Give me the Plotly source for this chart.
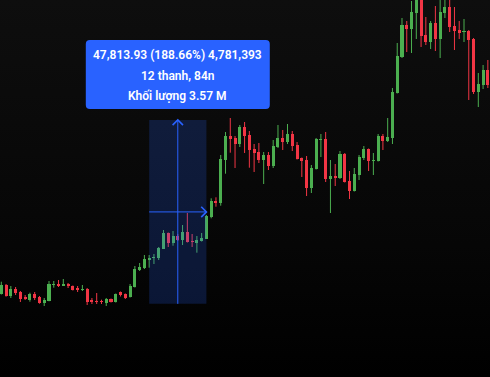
import base64
import plotly.graph_objects as go

# ---------------- data ----------------
bar_index = list(range(103))
open_ = [27910, 30250, 27470, 29210, 28430, 27130, 26350, 27910, 27130, 25570,
         26090, 30250, 30510, 30070, 30430, 29990, 29290, 28950, 29210, 26350,
         26090, 26090, 25570, 26610, 25830, 28430, 27910, 27130, 29730, 34150,
         34670, 36930, 37270, 37270, 39690, 43770, 41250, 42990, 41950, 44030,
         41690, 41170, 41690, 42290, 47850, 52170, 51650, 62750, 68990, 68470,
         66910, 71330, 69250, 65610, 64830, 62750, 64050, 61190, 66130, 68470,
         67430, 69510, 66650, 63270, 62750, 55470, 60410, 67950, 68210, 57810,
         58590, 58070, 64310, 57290, 54690, 58850, 63270, 65610, 62490, 62490,
         68990, 67690, 68470, 80170, 89530, 97850, 96810, 100970, 105130, 95250,
         93430, 98370, 94210, 100970, 102530, 97590, 96550, 96030, 96290, 94210,
         80430, 82250, 86150]
high = [31110, 30510, 29990, 29730, 28690, 27650, 28250, 28430, 27390, 26870,
        31290, 31290, 31550, 31810, 30770, 30120, 29990, 30250, 29470, 26870,
        28170, 26430, 26870, 26740, 28040, 28560, 28040, 30510, 35190, 35970,
        38050, 38050, 38310, 40130, 44550, 43900, 44290, 43510, 45850, 48970,
        43510, 42990, 43770, 48450, 52790, 53050, 64050, 70030, 73670, 68990,
        71850, 72630, 70290, 66910, 67170, 64830, 64830, 67950, 71850, 70550,
        72110, 70290, 67430, 63400, 63790, 61450, 68470, 69510, 70030, 62750,
        61710, 65090, 64570, 59890, 60670, 64050, 66390, 65740, 64570, 69510,
        69510, 73670, 81470, 93170, 99670, 98890, 104090, 106950, 106950, 99930,
        98890, 102790, 105650, 105650, 105650, 102530, 98890, 99410, 96550, 94470,
        85370, 87450, 88750]
low = [27780, 27210, 26870, 27650, 25830, 26350, 25910, 26350, 25390, 24790,
       26010, 29550, 29730, 29990, 29470, 28820, 28430, 28690, 25050, 25310,
       25310, 25310, 24790, 25700, 25700, 27260, 26610, 27000, 29600, 33890,
       34410, 34750, 35710, 36750, 39610, 40130, 40470, 41690, 40650, 41300,
       40130, 38650, 41560, 42210, 47590, 50610, 50870, 59190, 64650, 60670,
       66130, 64570, 60750, 59630, 61970, 56510, 60150, 60670, 65870, 65350,
       66910, 65090, 62880, 58330, 53390, 54170, 60280, 63530, 57030, 48970,
       55990, 57810, 56900, 52610, 54560, 57550, 62750, 59890, 58850, 62360,
       65350, 67430, 66910, 80040, 89270, 90830, 90570, 94210, 92130, 92650,
       91610, 91090, 89270, 99670, 96030, 91350, 94210, 93430, 78350, 79910,
       76530, 81210, 81470]
close = [30250, 27390, 29210, 28090, 26610, 26610, 27910, 26870, 25570, 26430,
         30510, 30510, 29990, 30250, 30070, 28950, 29130, 29210, 25910, 26010,
         25830, 25830, 26610, 25830, 27910, 27650, 26870, 29990, 34410, 34930,
         37010, 37350, 37530, 39870, 43770, 41250, 42990, 42030, 44030, 41430,
         41430, 41950, 42550, 48190, 52090, 51650, 63010, 68990, 68210, 66910,
         71330, 68990, 65350, 64570, 62750, 64050, 61190, 66390, 68470, 67430,
         69510, 66390, 63010, 62490, 55470, 60670, 68210, 68210, 57810, 58590,
         58070, 64310, 57030, 54690, 59110, 63530, 65610, 62490, 62750, 68990,
         67690, 68730, 80430, 89790, 97850, 96810, 101230, 105130, 94990, 93430,
         98370, 94210, 101230, 102530, 97330, 96290, 95770, 96290, 93950, 80430,
         82510, 86150, 82250]

# measurement tool (price & date range)
range_start_bar = 31
range_end_bar = 43
range_start_price = 25343.5
range_end_price = 73157.4
tooltip_lines = ["47,813.93 (188.66%) 4,781,393",
                 "12 thanh, 84n",
                 "Khối lượng 3.57 M"]

# ---------------- style ----------------
W, H = 490, 377
X_RANGE = [-0.2725, 102.45]
Y_RANGE = [6330, 104350]
UP = "#4CAF50"
DOWN = "#F23645"
BLUE = "#2962FF"

ux = (X_RANGE[1] - X_RANGE[0]) / W   # data units per pixel (x)
uy = (Y_RANGE[1] - Y_RANGE[0]) / H   # data units per pixel (y)


def px_x(v):
    return (v - X_RANGE[0]) / ux


def px_y(v):
    return (Y_RANGE[1] - v) / uy


fig = go.Figure()

up = [c >= o for o, c in zip(open_, close)]

# bodies
min_body = 1.0 * uy
base = [min(o, c) for o, c in zip(open_, close)]
height = [max(abs(c - o), min_body) for o, c in zip(open_, close)]
fig.add_trace(go.Bar(
    x=bar_index, y=height, base=base, width=0.64,
    marker=dict(color=[UP if u else DOWN for u in up], line=dict(width=0)),
    hoverinfo="skip", showlegend=False,
))

# wicks
for is_up, col in ((True, UP), (False, DOWN)):
    xs, ys = [], []
    for i, o, h, l, c, u in zip(bar_index, open_, high, low, close, up):
        if u == is_up:
            xs += [i, i, None]
            ys += [l, h, None]
    fig.add_trace(go.Scatter(x=xs, y=ys, mode="lines", line=dict(color=col, width=1),
                             hoverinfo="skip", showlegend=False))

# background gradient (dark grey at top -> black at bottom)
svg = ('<svg xmlns="http://www.w3.org/2000/svg" width="10" height="100" preserveAspectRatio="none">'
       '<defs><linearGradient id="g" x1="0" y1="0" x2="0" y2="1">'
       '<stop offset="0" stop-color="#0e0e0e"/><stop offset="0.65" stop-color="#060606"/>'
       '<stop offset="1" stop-color="#000000"/></linearGradient></defs>'
       '<rect width="10" height="100" fill="url(#g)"/></svg>')
bg_src = "data:image/svg+xml;base64," + base64.b64encode(svg.encode()).decode()

# ---------------- measurement tool ----------------
mid_bar = (range_start_bar + range_end_bar) / 2
mid_price = (range_start_price + range_end_price) / 2
shapes = [
    dict(type="rect", xref="x", yref="y", layer="above",
         x0=range_start_bar, x1=range_end_bar, y0=range_start_price, y1=range_end_price,
         fillcolor="rgba(41,98,255,0.2)", line=dict(width=0)),
    dict(type="line", xref="x", yref="y", layer="above",
         x0=mid_bar, x1=mid_bar, y0=range_start_price, y1=range_end_price,
         line=dict(color=BLUE, width=1)),
    dict(type="line", xref="x", yref="y", layer="above",
         x0=range_start_bar, x1=range_end_bar, y0=mid_price, y1=mid_price,
         line=dict(color=BLUE, width=1)),
]
a = 5.2  # chevron size in px
shapes.append(dict(type="path", xref="x", yref="y", layer="above",
                   path=f"M {mid_bar - a*ux},{range_end_price - a*uy} L {mid_bar},{range_end_price} "
                        f"L {mid_bar + a*ux},{range_end_price - a*uy}",
                   line=dict(color=BLUE, width=1.6)))
shapes.append(dict(type="path", xref="x", yref="y", layer="above",
                   path=f"M {range_end_bar - a*ux},{mid_price + a*uy} L {range_end_bar},{mid_price} "
                        f"L {range_end_bar - a*ux},{mid_price - a*uy}",
                   line=dict(color=BLUE, width=1.6)))

# tooltip box (pixel geometry relative to the tool, converted to paper units)
cx = px_x(mid_bar)
box_w, box_h, gap, r = 184, 69, 11, 4
bx0, bx1 = cx - box_w / 2, cx + box_w / 2
by1 = px_y(range_end_price) - gap
by0 = by1 - box_h


def P(x, y):
    return f"{x / W},{1 - y / H}"


path = (f"M {P(bx0 + r, by0)} L {P(bx1 - r, by0)} Q {P(bx1, by0)} {P(bx1, by0 + r)} "
        f"L {P(bx1, by1 - r)} Q {P(bx1, by1)} {P(bx1 - r, by1)} "
        f"L {P(bx0 + r, by1)} Q {P(bx0, by1)} {P(bx0, by1 - r)} "
        f"L {P(bx0, by0 + r)} Q {P(bx0, by0)} {P(bx0 + r, by0)} Z")
shapes.append(dict(type="path", xref="paper", yref="paper", layer="above",
                   path=path, fillcolor=BLUE, line=dict(width=0)))

annotations = []
line_offsets = [15, 35.7, 56]
for txt, off in zip(tooltip_lines, line_offsets):
    annotations.append(dict(
        text=txt, xref="paper", yref="paper", x=cx / W, y=1 - (by0 + off) / H,
        xanchor="center", yanchor="middle", showarrow=False,
        font=dict(family="Roboto", size=12, color="#ffffff", weight=600),
    ))

fig.update_layout(
    width=W, height=H, margin=dict(l=0, r=0, t=0, b=0),
    paper_bgcolor="#000000", plot_bgcolor="rgba(0,0,0,0)",
    xaxis=dict(range=X_RANGE, visible=False, fixedrange=True),
    yaxis=dict(range=Y_RANGE, visible=False, fixedrange=True),
    showlegend=False, bargap=0, shapes=shapes, annotations=annotations,
    images=[dict(source=bg_src, xref="paper", yref="paper", x=0, y=1,
                 sizex=1, sizey=1, sizing="stretch", layer="below",
                 xanchor="left", yanchor="top")],
)

fig.write_html("out.html", config={"displayModeBar": False})
